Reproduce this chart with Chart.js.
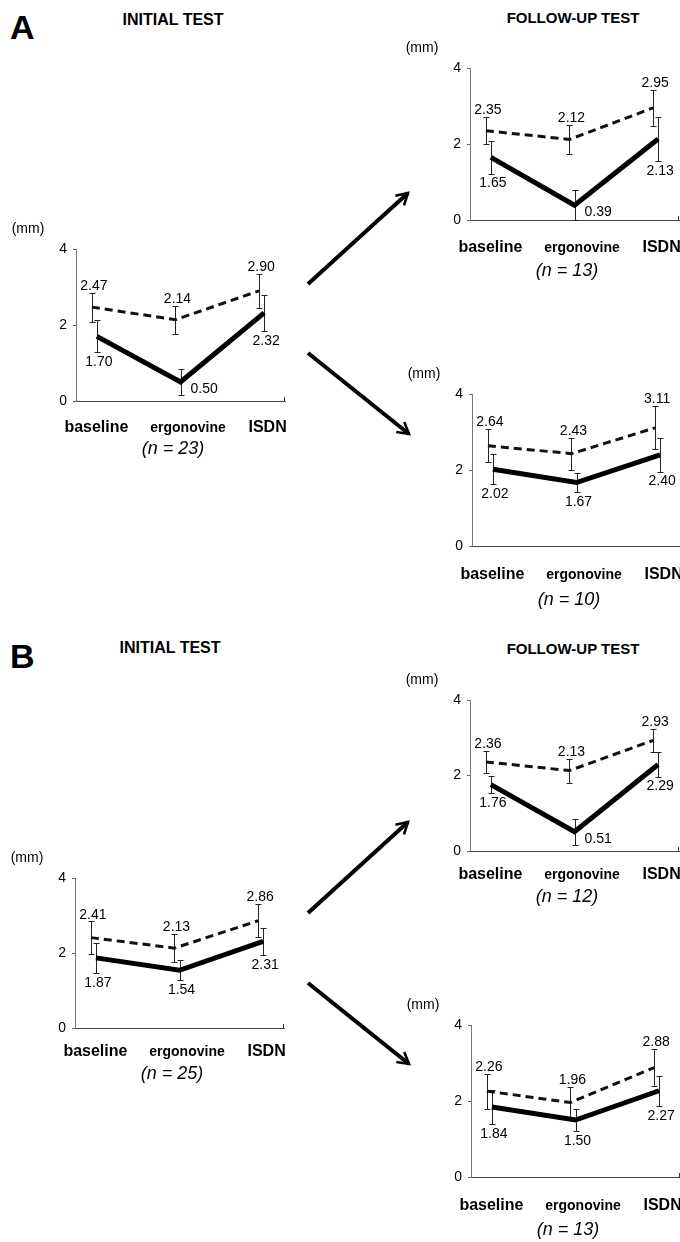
<!DOCTYPE html>
<html>
<head>
<meta charset="utf-8">
<script src="https://cdn.jsdelivr.net/npm/chart.js@4.4.1/dist/chart.umd.min.js"></script>
<style>
  html, body { margin: 0; padding: 0; background: #fff; }
  body { position: relative; width: 680px; height: 1242px; overflow: hidden; font-family: 'Liberation Sans', Arial, sans-serif; }
  .panel { position: absolute; width: 300px; }
  .letter { position: absolute; font-weight: bold; font-size: 34px; line-height: 1; }
  .title { position: absolute; font-weight: bold; transform: translate(-50%, -50%); white-space: nowrap; }
  svg { position: absolute; left: 0; top: 0; }
</style>
</head>
<body>

<div class="letter" style="left:10px; top:10px;">A</div>
<div class="letter" style="left:10px; top:639px;">B</div>
<div class="title" style="left:173px; top:20px; font-size:16px;">INITIAL TEST</div>
<div class="title" style="left:573px; top:17px; font-size:15px;">FOLLOW-UP TEST</div>
<div class="title" style="left:170px; top:648px; font-size:16px;">INITIAL TEST</div>
<div class="title" style="left:573px; top:648px; font-size:15px;">FOLLOW-UP TEST</div>

<svg width="680" height="1242">
  <defs>
    <marker id="head" viewBox="0 0 10 10" refX="8" refY="5" markerWidth="4" markerHeight="4" orient="auto" markerUnits="strokeWidth">
      <path d="M1,1 L8,5 L1,9" fill="none" stroke="#000" stroke-width="1.6" stroke-linejoin="miter"/>
    </marker>
  </defs>
  <line x1="308" y1="284" x2="408" y2="193" stroke="#000" stroke-width="4" marker-end="url(#head)"/>
  <line x1="308" y1="353" x2="409" y2="434" stroke="#000" stroke-width="4" marker-end="url(#head)"/>
  <line x1="308" y1="913" x2="408" y2="822" stroke="#000" stroke-width="4" marker-end="url(#head)"/>
  <line x1="308" y1="983" x2="409" y2="1064" stroke="#000" stroke-width="4" marker-end="url(#head)"/>
</svg>

<script>
// ---- data ----
const categories = ['baseline', 'ergonovine', 'ISDN'];
const yTicks = [0, 2, 4];

// A: initial test (n = 23)
const aInitDashed = [2.47, 2.14, 2.90];
const aInitDashedSd = [0.38, 0.37, 0.44];
const aInitSolid = [1.70, 0.50, 2.32];
const aInitSolidSd = [0.42, 0.34, 0.47];

// A: follow-up (n = 13)
const aFu1Dashed = [2.35, 2.12, 2.95];
const aFu1DashedSd = [0.36, 0.39, 0.47];
const aFu1Solid = [1.65, 0.39, 2.13];
const aFu1SolidSd = [0.43, 0.39, 0.57];

// A: follow-up (n = 10)
const aFu2Dashed = [2.64, 2.43, 3.11];
const aFu2DashedSd = [0.44, 0.42, 0.57];
const aFu2Solid = [2.02, 1.67, 2.40];
const aFu2SolidSd = [0.39, 0.26, 0.44];

// B: initial test (n = 25)
const bInitDashed = [2.41, 2.13, 2.86];
const bInitDashedSd = [0.43, 0.38, 0.44];
const bInitSolid = [1.87, 1.54, 2.31];
const bInitSolidSd = [0.40, 0.27, 0.37];

// B: follow-up (n = 12)
const bFu1Dashed = [2.36, 2.13, 2.93];
const bFu1DashedSd = [0.29, 0.32, 0.31];
const bFu1Solid = [1.76, 0.51, 2.29];
const bFu1SolidSd = [0.23, 0.34, 0.32];

// B: follow-up (n = 13)
const bFu2Dashed = [2.26, 1.96, 2.88];
const bFu2DashedSd = [0.46, 0.41, 0.48];
const bFu2Solid = [1.84, 1.50, 2.27];
const bFu2SolidSd = [0.45, 0.30, 0.40];

// ---- layout ----
const FONT = "'Liberation Sans', Arial, sans-serif";
const PAD_LEFT = 52, Y_AXIS_W = 24, PLOT_W = 209, PAD_TOP = 40, PAD_BOTTOM = 66;
const catNudge = [2, 10, 6];   // small shift of the category names vs. the points

const panels = [
  { x0: 76,  y4: 249,  y0: 401,  n: 23, labelDy: 27, nDy: 48, dashed: aInitDashed, dashedSd: aInitDashedSd, solid: aInitSolid, solidSd: aInitSolidSd },
  { x0: 470, y4: 68,   y0: 220,  n: 13, labelDy: 28, nDy: 51, dashed: aFu1Dashed,  dashedSd: aFu1DashedSd,  solid: aFu1Solid,  solidSd: aFu1SolidSd },
  { x0: 472, y4: 394,  y0: 546,  n: 10, labelDy: 29, nDy: 54, dashed: aFu2Dashed,  dashedSd: aFu2DashedSd,  solid: aFu2Solid,  solidSd: aFu2SolidSd },
  { x0: 75,  y4: 878,  y0: 1028, n: 25, labelDy: 24, nDy: 46, dashed: bInitDashed, dashedSd: bInitDashedSd, solid: bInitSolid, solidSd: bInitSolidSd },
  { x0: 470, y4: 700,  y0: 851,  n: 12, labelDy: 24, nDy: 46, dashed: bFu1Dashed,  dashedSd: bFu1DashedSd,  solid: bFu1Solid,  solidSd: bFu1SolidSd },
  { x0: 471, y4: 1025, y0: 1177, n: 13, labelDy: 29, nDy: 53, dashed: bFu2Dashed,  dashedSd: bFu2DashedSd,  solid: bFu2Solid,  solidSd: bFu2SolidSd }
];

/**
 * Error bars under the lines
 */
const errorBars = {
  id: 'errorBars',
  beforeDatasetsDraw(chart) {
    const { ctx, scales: { x, y } } = chart;
    ctx.save();
    ctx.strokeStyle = '#222';
    ctx.lineWidth = 1;
    chart.data.datasets.forEach(ds => {
      ds.data.forEach((pt, i) => {
        const px = Math.round(x.getPixelForValue(pt.x)) + 0.5;
        const hi = Math.round(y.getPixelForValue(pt.y + ds.sd[i])) + 0.5;
        const lo = Math.round(y.getPixelForValue(Math.max(0, pt.y - ds.sd[i]))) + 0.5;
        ctx.beginPath();
        ctx.moveTo(px, hi); ctx.lineTo(px, lo);
        ctx.moveTo(px - 3, hi); ctx.lineTo(px + 3, hi);
        ctx.moveTo(px - 3, lo); ctx.lineTo(px + 3, lo);
        ctx.stroke();
      });
    });
    ctx.restore();
  }
};

/**
 * Value labels, category names, (mm) and (n = ..)
 */
const panelText = {
  id: 'panelText',
  afterDraw(chart, args, opts) {
    const { ctx, chartArea, scales: { x, y } } = chart;
    ctx.save();
    ctx.fillStyle = '#000';
    ctx.font = '14px ' + FONT;

    // value labels
    chart.data.datasets.forEach((ds, di) => {
      ds.data.forEach((pt, i) => {
        const px = x.getPixelForValue(pt.x);
        const py = y.getPixelForValue(pt.y);
        const txt = pt.y.toFixed(2);
        if (di === 0) {
          ctx.textAlign = 'center';
          ctx.textBaseline = 'alphabetic';
          ctx.fillText(txt, px + 2, y.getPixelForValue(pt.y + ds.sd[i]) - 3);
        } else if (pt.y < 1) {
          ctx.textAlign = 'left';
          ctx.textBaseline = 'middle';
          ctx.fillText(txt, px + 10, py + 7);
        } else {
          ctx.textAlign = 'center';
          ctx.textBaseline = 'top';
          ctx.fillText(txt, px + 2, y.getPixelForValue(pt.y - ds.sd[i]) + 3);
        }
      });
    });

    // (mm)
    ctx.textAlign = 'center';
    ctx.textBaseline = 'middle';
    ctx.fillText('(mm)', chartArea.left - 48, chartArea.top - 20);

    // small end tick on the x axis
    ctx.strokeStyle = '#333';
    ctx.lineWidth = 1;
    ctx.beginPath();
    ctx.moveTo(chartArea.right - 0.5, chartArea.bottom);
    ctx.lineTo(chartArea.right - 0.5, chartArea.bottom - 4);
    ctx.stroke();

    // category names
    categories.forEach((c, i) => {
      const size = i === 1 ? 14 : 16;
      ctx.font = 'bold ' + size + 'px ' + FONT;
      ctx.fillText(c, x.getPixelForValue(i) + catNudge[i], chartArea.bottom + opts.labelDy);
    });

    // group size
    ctx.font = 'italic 18px ' + FONT;
    ctx.fillText('(n = ' + opts.n + ')', x.getPixelForValue(1) - 5, chartArea.bottom + opts.nDy);
    ctx.restore();
  }
};

function makePanel(p) {
  const wrap = document.createElement('div');
  wrap.className = 'panel';
  const h = (p.y0 - p.y4) + PAD_TOP + PAD_BOTTOM;
  wrap.style.left = (p.x0 - PAD_LEFT - Y_AXIS_W) + 'px';
  wrap.style.top = (p.y4 - PAD_TOP) + 'px';
  wrap.style.height = h + 'px';
  const canvas = document.createElement('canvas');
  wrap.appendChild(canvas);
  document.body.appendChild(wrap);

  new Chart(canvas, {
    type: 'line',
    data: {
      datasets: [
        {
          data: p.dashed.map((v, i) => ({ x: i - 0.03, y: v })),
          sd: p.dashedSd,
          borderColor: '#111',
          borderWidth: 3,
          borderDash: [8, 5],
          pointRadius: 0,
          tension: 0
        },
        {
          data: p.solid.map((v, i) => ({ x: i + 0.03, y: v })),
          sd: p.solidSd,
          borderColor: '#000',
          borderWidth: 5,
          pointRadius: 0,
          tension: 0
        }
      ]
    },
    options: {
      responsive: true,
      maintainAspectRatio: false,
      animation: false,
      events: [],
      layout: { padding: { left: PAD_LEFT, top: PAD_TOP, right: 300 - PAD_LEFT - Y_AXIS_W - PLOT_W, bottom: PAD_BOTTOM } },
      plugins: {
        legend: { display: false },
        tooltip: { enabled: false },
        panelText: { n: p.n, labelDy: p.labelDy, nDy: p.nDy }
      },
      scales: {
        x: {
          type: 'linear',
          min: -0.22,
          max: 2.28,
          ticks: { display: false },
          grid: { display: false, drawTicks: false },
          border: { display: true, color: '#444', width: 1 },
          afterFit: s => { s.height = 0; }
        },
        y: {
          min: 0,
          max: 4,
          afterBuildTicks: s => { s.ticks = yTicks.map(v => ({ value: v })); },
          ticks: { font: { family: FONT, size: 14 }, color: '#000', padding: 6 },
          grid: { drawOnChartArea: false, drawTicks: true, tickLength: 3, color: '#666' },
          border: { display: true, color: '#777', width: 1 },
          afterFit: s => { s.width = Y_AXIS_W; }
        }
      }
    },
    plugins: [errorBars, panelText]
  });
}

panels.forEach(makePanel);
</script>
</body>
</html>
